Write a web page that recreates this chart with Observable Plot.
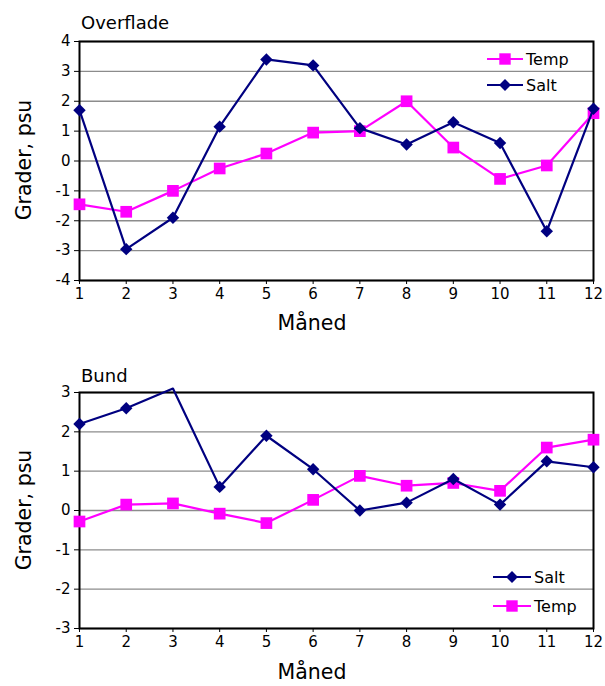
<!DOCTYPE html>
<html><head><meta charset="utf-8">
<script src="https://cdn.jsdelivr.net/npm/d3@7"></script>
<script src="https://cdn.jsdelivr.net/npm/@observablehq/plot@0.6"></script>
<style>
body{margin:0;background:#fff;font-family:"DejaVu Sans",sans-serif;}
#wrap{position:relative;width:605px;height:686px;}
.lbl{position:absolute;color:#000;white-space:nowrap;line-height:1;}
.rot{transform:translate(-50%,-50%) rotate(-90deg);}
</style></head><body>
<div id="wrap"></div>
<script>
const months = [1,2,3,4,5,6,7,8,9,10,11,12];
const overfladeTemp = [-1.45,-1.7,-1.0,-0.25,0.25,0.95,1.0,2.0,0.45,-0.6,-0.15,1.6];
const overfladeSalt = [1.7,-2.95,-1.9,1.15,3.4,3.2,1.1,0.55,1.3,0.6,-2.35,1.75];
const bundSalt = [2.2,2.6,3.1,0.6,1.9,1.05,0.0,0.2,0.8,0.15,1.25,1.1];
const bundTemp = [-0.28,0.15,0.18,-0.08,-0.32,0.27,0.88,0.63,0.7,0.5,1.6,1.8];
const yTicksTop = [-4,-3,-2,-1,0,1,2,3,4];
const yTicksBottom = [-3,-2,-1,0,1,2,3];
const titles = ["Overflade","Bund"];
const xLabel = "Måned", yLabel = "Grader, psu";
const TEMP = "#ff00ff", SALT = "#000080";
const FONT = '"DejaVu Sans", sans-serif';

const wrap = document.getElementById("wrap");

function chart({temp, salt, yDomain, yTicks, height, mTop, mBottom, legendOrder, legendY, legendX}) {
  const tData = months.map((m,i)=>({m, v: temp[i]}));
  const sData = months.map((m,i)=>({m, v: salt[i]}));
  const inRange = d => d.v >= yDomain[0] && d.v <= yDomain[1];
  const svg = Plot.plot({
    width: 605, height,
    marginLeft: 79, marginRight: 12, marginTop: mTop, marginBottom: mBottom,
    style: {fontFamily: FONT, fontSize: "15px", color: "#000", background: "transparent"},
    x: {domain: [1,12], ticks: months, label: null},
    y: {domain: yDomain, ticks: yTicks, label: null},
    marks: [
      Plot.gridY(yTicks, {stroke: "#8c8c8c", strokeOpacity: 1, strokeWidth: 1.3}),
      Plot.axisY(yTicks, {tickSize: 5, tickPadding: 4, fontSize: 15, stroke: "#000", tickFormat: d => d}),
      Plot.axisX(months, {tickSize: 4, tickPadding: 4, fontSize: 15, stroke: "#000"}),
      Plot.frame({stroke: "#000", strokeWidth: 2}),
      Plot.line(tData, {x: "m", y: "v", stroke: TEMP, strokeWidth: 2.2}),
      Plot.dot(tData.filter(inRange), {x: "m", y: "v", symbol: "square", fill: TEMP, r: 6.6}),
      Plot.line(sData, {x: "m", y: "v", stroke: SALT, strokeWidth: 2.2}),
      Plot.dot(sData.filter(inRange), {x: "m", y: "v", symbol: "diamond2", fill: SALT, r: 5.6})
    ]
  });
  // legend
  const g = d3.select(svg).append("g").attr("font-family", FONT).attr("text-anchor", "start");
  legendOrder.forEach((item, i) => {
    const y = legendY[i];
    const x0 = legendX[0], x1 = legendX[1];
    g.append("line").attr("x1", x0).attr("x2", x1).attr("y1", y).attr("y2", y)
      .attr("stroke", item.color).attr("stroke-width", 2);
    g.append("path").attr("transform", `translate(${(x0+x1)/2},${y})`)
      .attr("d", d3.symbol(item.name === "Temp" ? d3.symbolSquare : d3.symbolDiamond2, item.name === "Temp" ? 130 : 90)())
      .attr("fill", item.color);
    g.append("text").attr("x", x1 + 3).attr("y", y).attr("dy", "0.36em")
      .attr("text-anchor", "start")
      .attr("font-size", 16).attr("fill", "#000").text(item.name);
  });
  return svg;
}

function block(top, svg, title, titleY, yLabelY, xLabelY) {
  const d = document.createElement("div");
  d.style.position = "absolute"; d.style.left = "0px"; d.style.top = top + "px";
  d.appendChild(svg);
  wrap.appendChild(d);
  const t = document.createElement("div");
  t.className = "lbl"; t.textContent = title; t.style.fontSize = "18px";
  t.style.left = "81px"; t.style.top = titleY + "px"; t.style.transform = "translate(0,-50%)";
  wrap.appendChild(t);
  const yl = document.createElement("div");
  yl.className = "lbl rot"; yl.textContent = yLabel; yl.style.fontSize = "20.5px";
  yl.style.left = "24px"; yl.style.top = yLabelY + "px";
  wrap.appendChild(yl);
  const xl = document.createElement("div");
  xl.className = "lbl"; xl.textContent = xLabel; xl.style.fontSize = "20.5px";
  xl.style.left = "312px"; xl.style.top = xLabelY + "px"; xl.style.transform = "translate(-50%,-50%)";
  wrap.appendChild(xl);
}

const c1 = chart({temp: overfladeTemp, salt: overfladeSalt, yDomain: [-4,4], yTicks: yTicksTop,
  height: 340, mTop: 41, mBottom: 60,
  legendOrder: [{name:"Temp", color:TEMP}, {name:"Salt", color:SALT}], legendY: [59, 85], legendX: [487, 523]});
block(0, c1, titles[0], 23, 160, 323);

const c2 = chart({temp: bundTemp, salt: bundSalt, yDomain: [-3,3], yTicks: yTicksBottom,
  height: 346, mTop: 52, mBottom: 58,
  legendOrder: [{name:"Salt", color:SALT}, {name:"Temp", color:TEMP}], legendY: [237, 266], legendX: [493, 531]});
block(340, c2, titles[1], 376, 510, 672);
</script>
</body></html>
